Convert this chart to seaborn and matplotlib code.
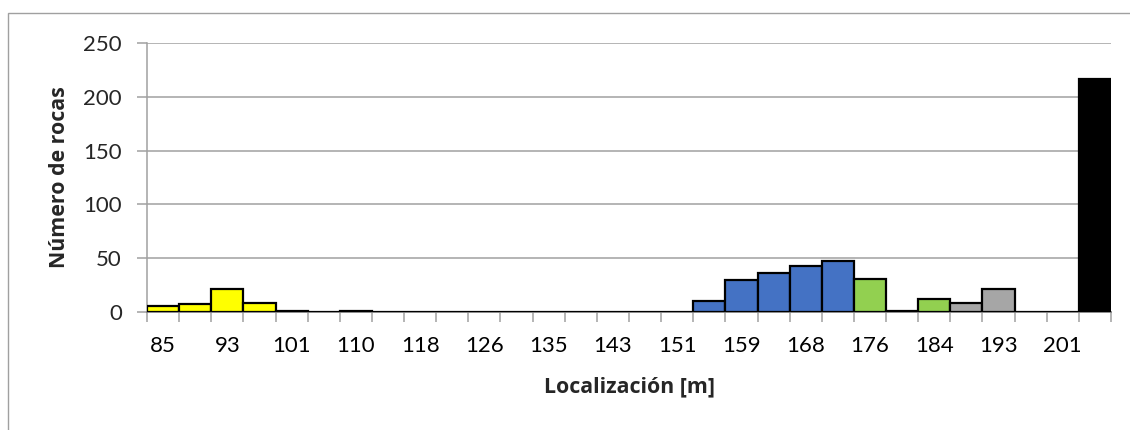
import matplotlib
matplotlib.use("Agg")
import matplotlib.pyplot as plt
import seaborn as sns
import pandas as pd
from matplotlib.patches import Rectangle

# Bin labels (m) and rock counts
locations = ['85', '89', '93', '97', '101', '105', '110', '114', '118', '122',
             '126', '130', '135', '139', '143', '147', '151', '155', '159', '163',
             '168', '172', '176', '180', '184', '188', '193', '197', '201', '205']
counts = [6, 7, 21, 8, 1, 0, 1, 0, 0, 0,
          0, 0, 0, 0, 0, 0, 0, 10, 30, 36,
          43, 47, 31, 1, 12, 8, 21, 0, 0, 217]
bar_colors = ['#FFFF00'] * 5 + ['#FFFFFF'] * 12 + ['#4472C4'] * 5 + ['#92D050', '#FFFFFF', '#92D050'] \
    + ['#A6A6A6'] * 2 + ['#FFFFFF'] * 2 + ['#000000']
shown_labels = locations[::2]

df = pd.DataFrame({'loc': locations, 'count': counts})

sns.set_style("white")
plt.rcParams['font.family'] = ['Lato', 'DejaVu Sans']

fig = plt.figure(figsize=(11.3, 4.3), dpi=100)
ax = fig.add_axes([147 / 1130, 1 - 312 / 430, 964 / 1130, 269 / 430])

sns.barplot(data=df, x='loc', y='count', hue='loc', palette=bar_colors, legend=False,
            width=1.0, edgecolor='black', linewidth=1.6, saturation=1, ax=ax, zorder=3)

ax.set_xlim(-0.5, len(locations) - 0.5)
ax.set_ylim(0, 250)
ax.set_yticks(range(0, 251, 50))
ax.yaxis.grid(True, color='#A0A0A0', linewidth=1.1, zorder=0)
ax.set_axisbelow(True)

# labels on every other bin, ticks on bin edges
ax.set_xticks(range(0, len(locations), 2))
ax.set_xticklabels(shown_labels)
ax.set_xticks([i - 0.5 for i in range(len(locations) + 1)], minor=True)
ax.tick_params(axis='x', which='major', length=0, pad=17, labelsize=16, colors='black')
ax.tick_params(axis='x', which='minor', length=7, width=1.1, color='#A0A0A0', direction='out')
ax.tick_params(axis='y', length=7, width=1.1, color='#A0A0A0', direction='out', pad=11, labelsize=16)
ax.tick_params(axis='y', left=True)
ax.tick_params(axis='x', which='minor', bottom=True)

for side in ['top', 'right']:
    ax.spines[side].set_visible(False)
ax.spines['left'].set_color('#A0A0A0')
ax.spines['left'].set_linewidth(1.1)
ax.spines['bottom'].set_color('#808080')
ax.spines['bottom'].set_linewidth(1.3)

ax.set_xlabel('Localización [m]', fontsize=15.4, fontweight='bold', family=['Open Sans', 'DejaVu Sans'])
ax.set_ylabel('Número de rocas', fontsize=15.4, fontweight='bold', family=['Open Sans', 'DejaVu Sans'])
ax.xaxis.set_label_coords(0.5, -0.24)
ax.yaxis.set_label_coords(-0.08, 0.5)

# outer chart frame, cut off on the right and bottom
fig.patches.append(Rectangle((8 / 1130, -0.1), 1.2, 1 - 13 / 430 + 0.1, transform=fig.transFigure,
                             fill=False, edgecolor='#A0A0A0', linewidth=1.0))

fig.savefig('out.png', dpi=100)
